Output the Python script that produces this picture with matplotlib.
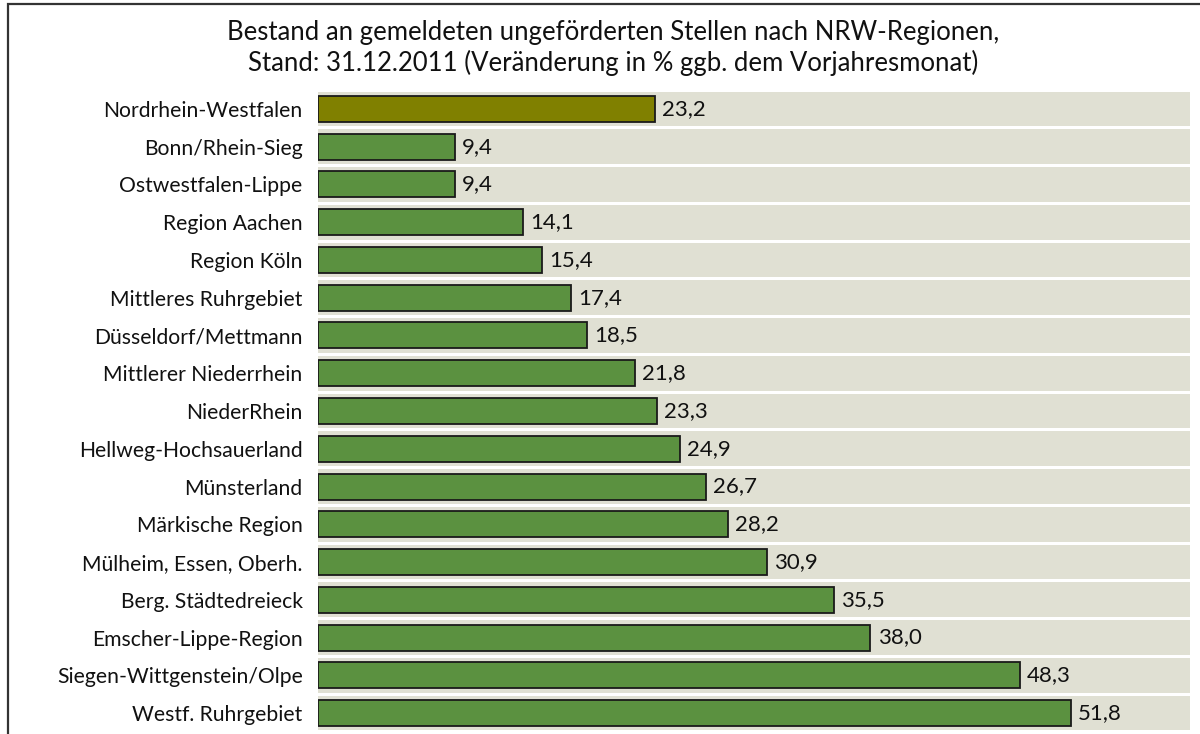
import matplotlib.pyplot as plt
from matplotlib.patches import Rectangle

regions = ['Nordrhein-Westfalen', 'Bonn/Rhein-Sieg', 'Ostwestfalen-Lippe', 'Region Aachen',
           'Region Köln', 'Mittleres Ruhrgebiet', 'Düsseldorf/Mettmann', 'Mittlerer Niederrhein',
           'NiederRhein', 'Hellweg-Hochsauerland', 'Münsterland', 'Märkische Region',
           'Mülheim, Essen, Oberh.', 'Berg. Städtedreieck', 'Emscher-Lippe-Region',
           'Siegen-Wittgenstein/Olpe', 'Westf. Ruhrgebiet']
values = [23.2, 9.4, 9.4, 14.1, 15.4, 17.4, 18.5, 21.8, 23.3, 24.9, 26.7, 28.2,
          30.9, 35.5, 38.0, 48.3, 51.8]

plt.rcParams['font.family'] = ['Lato', 'DejaVu Sans']

fig = plt.figure(figsize=(12, 7.34), dpi=100)
ax = fig.add_axes([318 / 1200, 1 - 732 / 734, 872 / 1200, (732 - 90) / 734])

xmax = 60
ypos = list(range(len(regions)))
colors = ['#808000'] + ['#5B9140'] * (len(regions) - 1)

ax.barh(ypos, [xmax] * len(regions), height=0.92, color='#E0E0D3', zorder=1)
ax.barh(ypos, values, height=0.69, color=colors, edgecolor='#1a1a1a', linewidth=1.3, zorder=2)

for y, v in zip(ypos, values):
    ax.text(v + 0.5, y, f'{v:.1f}'.replace('.', ','), va='center', ha='left',
            fontsize=16, color='#111111', zorder=3)

ax.set_xlim(0, xmax)
ax.set_ylim(len(regions) - 0.5, -0.5)
ax.set_yticks(ypos)
ax.set_yticklabels(regions, fontsize=15.2, color='#111111')
ax.tick_params(axis='y', length=0, pad=11)
ax.set_xticks([])
for s in ax.spines.values():
    s.set_visible(False)

fig.text(613 / 1200, 1 - 48 / 734,
         'Bestand an gemeldeten ungeförderten Stellen nach NRW-Regionen,\n'
         'Stand: 31.12.2011 (Veränderung in % ggb. dem Vorjahresmonat)',
         ha='center', va='center', fontsize=18.5, linespacing=1.2, color='#111111')

fig.add_artist(Rectangle((8 / 1200, -0.2), 1.2, 1.2 - 4 / 734, fill=False,
                         edgecolor='#333333', linewidth=1.6, transform=fig.transFigure))

fig.savefig('out.png', dpi=100)
